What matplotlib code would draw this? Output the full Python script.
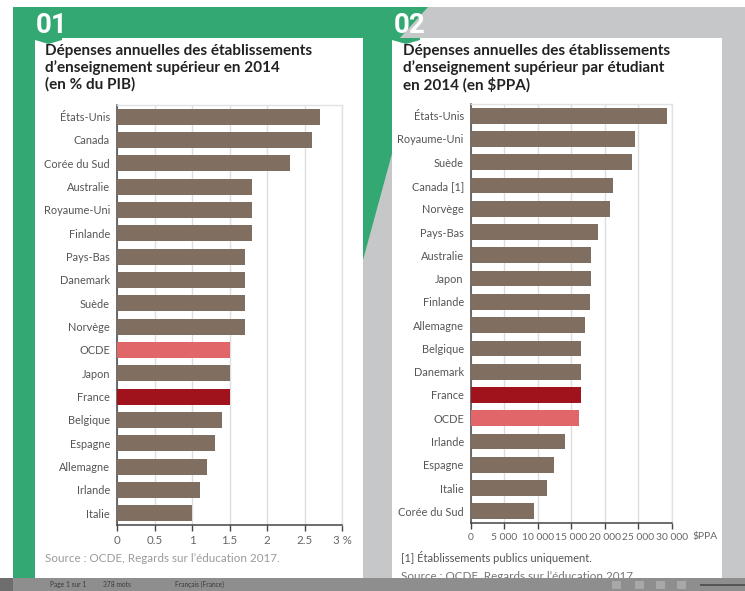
import matplotlib
matplotlib.use("Agg")
import matplotlib.pyplot as plt
from matplotlib.patches import Rectangle, Polygon

# ---------------- data ----------------
pays_pib = ["États-Unis", "Canada", "Corée du Sud", "Australie", "Royaume-Uni", "Finlande",
            "Pays-Bas", "Danemark", "Suède", "Norvège", "OCDE", "Japon", "France",
            "Belgique", "Espagne", "Allemagne", "Irlande", "Italie"]
valeurs_pib = [2.7, 2.6, 2.3, 1.8, 1.8, 1.8, 1.7, 1.7, 1.7, 1.7, 1.5, 1.5, 1.5,
               1.4, 1.3, 1.2, 1.1, 1.0]
ticks_pib = [0, 0.5, 1, 1.5, 2, 2.5, 3]
ticklabels_pib = ["0", "0.5", "1", "1.5", "2", "2.5", "3 %"]

pays_ppa = ["États-Unis", "Royaume-Uni", "Suède", "Canada [1]", "Norvège", "Pays-Bas",
            "Australie", "Japon", "Finlande", "Allemagne", "Belgique", "Danemark",
            "France", "OCDE", "Irlande", "Espagne", "Italie", "Corée du Sud"]
valeurs_ppa = [29300, 24500, 24000, 21200, 20800, 19000, 18000, 17900, 17800, 17100,
               16500, 16500, 16400, 16100, 14000, 12400, 11400, 9500]
ticks_ppa = [0, 5000, 10000, 15000, 20000, 25000, 30000]
ticklabels_ppa = ["0", "5 000", "10 000", "15 000", "20 000", "25 000", "30 000"]

titre1 = "Dépenses annuelles des établissements\nd’enseignement supérieur en 2014\n(en % du PIB)"
titre2 = "Dépenses annuelles des établissements\nd’enseignement supérieur par étudiant\nen 2014 (en $PPA)"
source = "Source : OCDE, Regards sur l’éducation 2017."
note = "[1] Établissements publics uniquement."

# ---------------- style ----------------
W, H = 745, 591
BROWN = "#806e60"
PINK = "#e0666a"
DARKRED = "#a0121c"
GREEN = "#33a873"
GREY_BG = "#c6c7c9"
FONT = ["Lato", "DejaVu Sans"]
plt.rcParams["font.family"] = FONT


def fx(x):
    return x / W


def fy(y):
    return 1 - y / H


def rect(fig, x0, y0, x1, y1, color, z=0):
    fig.patches.append(Rectangle((fx(x0), fy(y1)), fx(x1 - x0), (y1 - y0) / H,
                                 transform=fig.transFigure, facecolor=color,
                                 edgecolor="none", zorder=z))


def poly(fig, pts, color, z=0):
    fig.patches.append(Polygon([(fx(a), fy(b)) for a, b in pts], closed=True,
                               transform=fig.transFigure, facecolor=color,
                               edgecolor="none", zorder=z))


fig = plt.figure(figsize=(W / 100, H / 100), dpi=100)
fig.patch.set_facecolor("white")

# background pieces
rect(fig, 13, 7, W, 578, GREY_BG, z=0)
poly(fig, [(13, 7), (428, 7), (398, 40), (393, 150), (363, 260), (363, 578), (13, 578)], GREEN, z=1)
# cards
rect(fig, 35, 38, 363, 578, "white", z=2)
rect(fig, 392, 38, 722, 578, "white", z=2)
# notches
poly(fig, [(35, 38), (62, 38), (62, 40), (48.5, 44), (35, 40)], GREEN, z=3)
poly(fig, [(392, 38), (420, 38), (420, 40), (406, 44), (392, 40)], GREEN, z=3)
# status bar
rect(fig, 0, 578, W, H, "#8e8e8e", z=10)
rect(fig, 0, 578, 13, H, "#6e6e6e", z=11)
for x0 in (612, 635, 656, 677):
    rect(fig, x0, 581, x0 + 9, 589, "#a8a8a8", z=11)
rect(fig, 700, 584, 745, 585.5, "#555555", z=11)

NUM_FONT = ["DejaVu Sans Condensed", "Roboto", "DejaVu Sans"]
fig.text(fx(36), fy(12), "01", color="white", fontsize=20, fontweight="bold",
         family=NUM_FONT, va="top", ha="left", zorder=5)
fig.text(fx(394), fy(12), "02", color="white", fontsize=20, fontweight="bold",
         family=NUM_FONT, va="top", ha="left", zorder=5)

fig.text(fx(45), fy(44), titre1, color="#222222", fontsize=11, fontweight="bold",
         va="top", ha="left", linespacing=1.18, zorder=5)
fig.text(fx(403), fy(44), titre2, color="#222222", fontsize=11, fontweight="bold",
         va="top", ha="left", linespacing=1.18, zorder=5)

fig.text(fx(45), fy(559), source, color="#9a9a9a", fontsize=8.4, va="center", ha="left", zorder=5)
fig.text(fx(401), fy(557), note, color="#555555", fontsize=8.0, va="center", ha="left", zorder=5)
fig.text(fx(401), fy(577), source, color="#777777", fontsize=8.4, va="center", ha="left", zorder=5)

for xs, txt in ((50, "Page 1 sur 1"), (103, "378 mots"), (175, "Français (France)")):
    fig.text(fx(xs), fy(584.5), txt, color="#3a3a3a", fontsize=4.8, va="center", ha="left", zorder=12)


def make_panel(left, right, top, bottom, cats, vals, ticks, labels, xmax, hl, tsize):
    ax = fig.add_axes([fx(left), fy(bottom), fx(right - left), (bottom - top) / H])
    ax.set_zorder(4)
    ax.patch.set_alpha(0)
    cols = [hl.get(c, BROWN) for c in cats]
    ax.barh(range(len(cats)), vals, height=0.68, color=cols, edgecolor="none", zorder=3)
    ax.set_xlim(0, xmax)
    ax.set_ylim(len(cats) - 0.5, -0.5)
    ax.set_yticks(range(len(cats)))
    ax.set_yticklabels(cats, fontsize=7.9, color="#555555")
    ax.tick_params(axis="y", length=0, pad=5)
    ax.set_xticks(ticks)
    ax.set_xticklabels(labels, fontsize=tsize, color="#666666")
    ax.tick_params(axis="x", length=4, width=1, color="#444444", pad=3, direction="out")
    ax.grid(axis="x", color="#dddddd", lw=1, zorder=0)
    for s in ("top", "right"):
        ax.spines[s].set_color("#e2e2e2")
        ax.spines[s].set_linewidth(1)
    for s in ("left", "bottom"):
        ax.spines[s].set_color("#444444")
        ax.spines[s].set_linewidth(1.1)
    return ax


make_panel(117, 342, 105, 525, pays_pib, valeurs_pib, ticks_pib, ticklabels_pib, 3,
           {"OCDE": PINK, "France": DARKRED}, 8.3)
make_panel(470.7, 672, 104, 523, pays_ppa, valeurs_ppa, ticks_ppa, ticklabels_ppa, 30000,
           {"OCDE": PINK, "France": DARKRED}, 7.4)
fig.text(fx(692), fy(536), "$PPA", color="#666666", fontsize=7.4, va="center", ha="left", zorder=5)

fig.savefig("out.png", dpi=100)
